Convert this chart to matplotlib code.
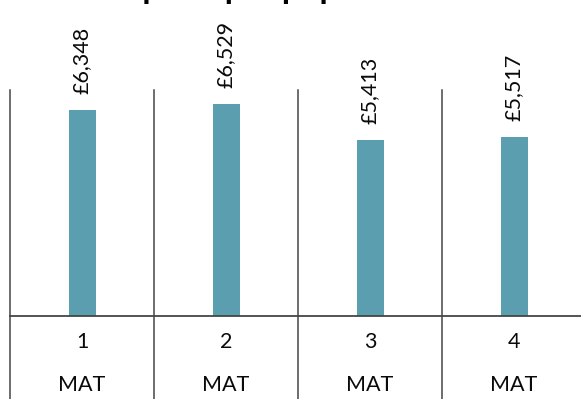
import matplotlib
matplotlib.use("Agg")
import matplotlib.pyplot as plt
import matplotlib.transforms as mtransforms

# ---- data ----
years = ["1", "2", "3", "4"]
subject = ["MAT", "MAT", "MAT", "MAT"]
values = [6348, 6529, 5413, 5517]
value_labels = ["£6,348", "£6,529", "£5,413", "£5,517"]
title = "Spend per pupil"

W, H, DPI = 581, 399, 100
fig = plt.figure(figsize=(W / DPI, H / DPI), dpi=DPI)
fig.patch.set_facecolor("white")

# axes: baseline at 316 px from top, cells 144 px wide starting at x=10
base_px = H - 316
left_px = 10
cell_px = 144
ax = fig.add_axes([left_px / W, base_px / H, 4 * cell_px / W, (H - base_px) / H])
ax.set_xlim(-0.5, 3.5)
px_per_unit = 206 / 6348
ax.set_ylim(0, (H - base_px) / px_per_unit)
ax.axis("off")

font = "Lato"
bar_color = "#5a9eaf"
line_color = "#454545"
text_color = "#0a0a0a"

xs = list(range(len(values)))
bars = ax.bar(xs, values, width=27 / cell_px, color=bar_color, edgecolor="none", zorder=2)

for x, v, lab in zip(xs, values, value_labels):
    ax.annotate(lab, xy=(x, v), xytext=(0, 16), textcoords="offset pixels",
                rotation=90, ha="center", va="bottom", fontsize=15.5,
                family=font, color=text_color)

# grid lines
trans = mtransforms.blended_transform_factory(ax.transData, ax.transAxes)
top_frac = (H - 90 - base_px) / (H - base_px)
bot_frac = -base_px / (H - base_px)
for xv in [-0.5, 0.5, 1.5, 2.5, 3.5]:
    ax.plot([xv, xv], [bot_frac, top_frac], transform=trans, color=line_color,
            lw=1.1, clip_on=False, zorder=3)
ax.plot([-0.5, 3.6], [0, 0], color=line_color, lw=1.3, clip_on=False, zorder=3)

# category labels
for x, yr, sub in zip(xs, years, subject):
    ax.annotate(yr, xy=(x, 0), xytext=(0, -26), textcoords="offset pixels",
                ha="center", va="center", fontsize=15.5, family=font, color=text_color)
    ax.annotate(sub, xy=(x, 0), xytext=(0, -69), textcoords="offset pixels",
                ha="center", va="center", fontsize=15.5, family=font, color=text_color)

# title (mostly cut off above the image, as in the reference)
fig.text(240 / W, (H + 1.5) / H, title, ha="center", va="baseline",
         fontsize=24, fontweight="bold", family=font, color="#000000")

fig.savefig("out.png", dpi=DPI, facecolor="white")
